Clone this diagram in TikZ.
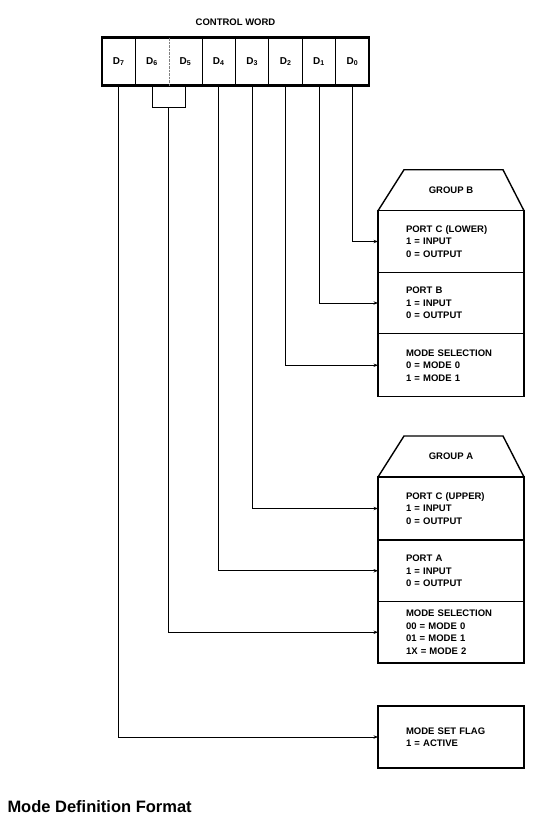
\documentclass[tikz,border=0pt]{standalone}
\usepackage{fontspec}
\setsansfont{Liberation Sans}
\usetikzlibrary{positioning, arrows.meta}

\begin{document}
\begin{tikzpicture}[
        x=1pt, y=-1pt,
        % Control word cells
        bitcell/.style={
                minimum width=32.4pt, minimum height=47pt,
                inner sep=0pt,
                font=\sffamily\bfseries\fontsize{10}{11}\selectfont
            },
        % Function boxes
        fieldbox/.style={
                draw, line width=1.4pt,
                minimum width=146pt, minimum height=61.5pt,
                text width=118pt, inner xsep=14pt, inner ysep=3pt,
                align=left, outer sep=0pt,
                execute at begin node={\leftskip=14pt\relax},
                font=\sffamily\bfseries\fontsize{9.5}{12.5}\selectfont
            },
        % Group headings (trapezium drawn round them)
        grouphead/.style={
                minimum width=146pt, minimum height=41pt,
                inner sep=0pt, outer sep=0pt,
                font=\sffamily\bfseries\fontsize{9.5}{11}\selectfont
            },
        >={Stealth[length=4.5pt,width=3.4pt]},
        line width=1pt
    ]
    \useasboundingbox (0,0) rectangle (548,835);

    %% ---- Control word D7 ... D0 ----
    \node[bitcell] (d7) at (118.6,61.5) {D\textsubscript{7}};
    \node[bitcell, right=0pt of d7] (d6) {D\textsubscript{6}};
    \node[bitcell, right=0pt of d6] (d5) {D\textsubscript{5}};
    \node[bitcell, right=0pt of d5] (d4) {D\textsubscript{4}};
    \node[bitcell, right=0pt of d4] (d3) {D\textsubscript{3}};
    \node[bitcell, right=0pt of d3] (d2) {D\textsubscript{2}};
    \node[bitcell, right=0pt of d2] (d1) {D\textsubscript{1}};
    \node[bitcell, right=0pt of d1] (d0) {D\textsubscript{0}};

    \draw[line width=2.2pt] (d7.north west) rectangle (d0.south east);
    \foreach \c in {d7, d5, d4, d3, d2, d1}
        \draw (\c.north east) -- (\c.south east);
    \draw[densely dotted, thin, gray] (d6.north east) -- (d6.south east);

    \node[inner sep=0pt, above=11pt of d4.north east,
        font=\sffamily\bfseries\fontsize{9.5}{11}\selectfont] (cwlabel) {CONTROL WORD};

    %% ---- Group B ----
    \node[fieldbox] (pcl) at (451,241.5) {PORT C (LOWER)\\1 = INPUT\\0 = OUTPUT};
    \node[fieldbox, below=0pt of pcl] (pb) {PORT B\\1 = INPUT\\0 = OUTPUT};
    \node[fieldbox, below=0pt of pb, minimum height=63pt] (msb) {MODE SELECTION\\0 = MODE 0\\1 = MODE 1};
    \node[grouphead, above=0pt of pcl] (grpb) {GROUP B};
    \draw[line width=1.4pt] (grpb.south west) -- ([xshift=26pt]grpb.north west)
        -- ([xshift=-21pt]grpb.north east) -- (grpb.south east);

    %% ---- Group A ----
    \node[fieldbox, minimum height=63pt] (pcu) at (451,508.5) {PORT C (UPPER)\\1 = INPUT\\0 = OUTPUT};
    \node[fieldbox, below=0pt of pcu] (pa) {PORT A\\1 = INPUT\\0 = OUTPUT};
    \node[fieldbox, below=0pt of pa] (msa) {MODE SELECTION\\00 = MODE 0\\01 = MODE 1\\1X = MODE 2};
    \node[grouphead, above=0pt of pcu] (grpa) {GROUP A};
    \draw[line width=1.4pt] (grpa.south west) -- ([xshift=26pt]grpa.north west)
        -- ([xshift=-21pt]grpa.north east) -- (grpa.south east);

    %% ---- Mode set flag ----
    \node[fieldbox, minimum height=62pt] (flag) at (451,737) {MODE SET FLAG\\1 = ACTIVE};

    %% ---- Bit connectors ----
    \draw[->] (d0.south) |- (pcl.west);
    \draw[->] (d1.south) |- (pb.west);
    \draw[->] (d2.south) |- (msb.west);
    \draw[->] (d3.south) |- (pcu.west);
    \draw[->] (d4.south) |- (pa.west);
    % D6 and D5 joined by a bracket
    \coordinate (d65) at ([yshift=-22pt]d6.south east);
    \draw (d6.south) |- (d65) -| (d5.south);
    \draw[->] (d65) |- (msa.west);
    \draw[->] (d7.south) |- (flag.west);

    %% ---- Caption ----
    \node[anchor=base west, inner sep=0pt,
        font=\sffamily\bfseries\fontsize{16.5}{19}\selectfont] (caption) at (7,812) {Mode Definition Format};

\end{tikzpicture}
\end{document}
